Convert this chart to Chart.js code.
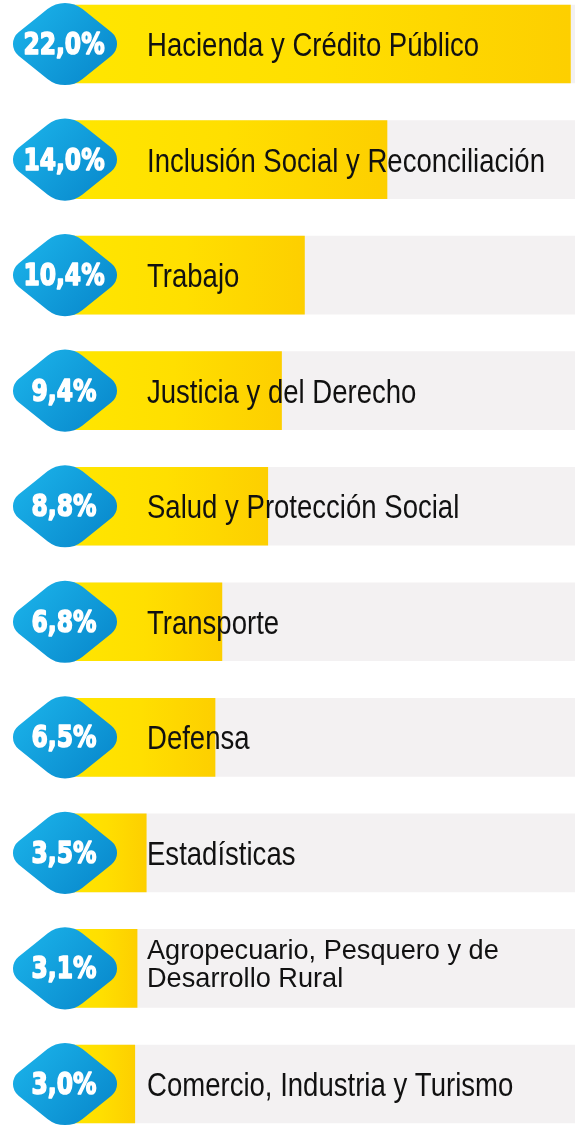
<!DOCTYPE html>
<html>
<head>
<meta charset="utf-8">
<script src="https://cdn.jsdelivr.net/npm/chart.js@4/dist/chart.umd.min.js"></script>
<style>
  html, body { margin: 0; padding: 0; background: #ffffff; }
  #wrap { position: relative; width: 575px; height: 1127px; }
</style>
</head>
<body>
<div id="wrap"><canvas id="c"></canvas></div>
<script>
// ---- data ----
const categories = [
  'Hacienda y Crédito Público',
  'Inclusión Social y Reconciliación',
  'Trabajo',
  'Justicia y del Derecho',
  'Salud y Protección Social',
  'Transporte',
  'Defensa',
  'Estadísticas',
  ['Agropecuario, Pesquero y de', 'Desarrollo Rural'],
  'Comercio, Industria y Turismo'
];
const shares = [22.0, 14.0, 10.4, 9.4, 8.8, 6.8, 6.5, 3.5, 3.1, 3.0];
const trackValues = [22.2, 22.2, 22.2, 22.2, 22.2, 22.2, 22.2, 22.2, 22.2, 22.2];
const axisMax = 22.2;

// ---- styling ----
const LABEL_FONT = '"Liberation Sans", Arial, sans-serif';
const BADGE_FONT = '"DejaVu Sans", sans-serif';

function fmtPct(v) { return v.toFixed(1).replace('.', ',') + '%'; }

function yellowGradient(ctx) {
  const chart = ctx.chart;
  if (!chart.chartArea || ctx.raw === undefined) return '#ffdf00';
  const xs = chart.scales.x;
  const x0 = xs.getPixelForValue(0);
  const x1 = xs.getPixelForValue(ctx.raw);
  const g = chart.ctx.createLinearGradient(x0, 0, x1, 0);
  g.addColorStop(0, '#ffe600');
  g.addColorStop(0.5, '#ffdf00');
  g.addColorStop(1, '#fdcf00');
  return g;
}

function badgePath(c, cx, cy) {
  const hw = 61, hh = 49, rSide = 15, rTop = 28;
  const L = [cx - hw, cy], T = [cx, cy - hh], R = [cx + hw, cy], B = [cx, cy + hh];
  c.beginPath();
  c.moveTo((L[0] + T[0]) / 2, (L[1] + T[1]) / 2);
  c.arcTo(T[0], T[1], R[0], R[1], rTop);
  c.arcTo(R[0], R[1], B[0], B[1], rSide);
  c.arcTo(B[0], B[1], L[0], L[1], rTop);
  c.arcTo(L[0], L[1], T[0], T[1], rSide);
  c.closePath();
}

const overlayPlugin = {
  id: 'overlay',
  afterDatasetsDraw(chart) {
    const c = chart.ctx;
    const xs = chart.scales.x, ys = chart.scales.y;
    const x0 = xs.getPixelForValue(0);
    categories.forEach((lab, i) => {
      const cy = ys.getPixelForValue(i);
      // label text
      c.save();
      c.fillStyle = '#111111';
      c.textBaseline = 'alphabetic';
      c.textAlign = 'left';
      const tx = x0 + 81;
      if (Array.isArray(lab)) {
        c.font = '28px ' + LABEL_FONT;
        lab.forEach((line, k) => {
          c.save();
          c.translate(tx, cy - 9 + k * 28);
          c.scale(0.97, 1);
          c.fillText(line, 0, 0);
          c.restore();
        });
      } else {
        c.font = '34px ' + LABEL_FONT;
        c.translate(tx, cy + 12);
        c.scale(0.81, 1);
        c.fillText(lab, 0, 0);
      }
      c.restore();

      // badge
      const bx = x0 - 1;
      c.save();
      badgePath(c, bx, cy);
      const g = c.createLinearGradient(bx - 45, cy - 40, bx + 45, cy + 40);
      g.addColorStop(0, '#1bb3ea');
      g.addColorStop(1, '#0887cb');
      c.fillStyle = g;
      c.fill();
      c.restore();

      c.save();
      c.fillStyle = '#ffffff';
      c.strokeStyle = '#ffffff';
      c.lineWidth = 1.6;
      c.lineJoin = 'round';
      c.font = 'bold 30px ' + BADGE_FONT;
      c.textAlign = 'center';
      c.textBaseline = 'alphabetic';
      c.translate(bx - 1, cy + 10);
      c.scale(0.78, 1);
      const t = fmtPct(shares[i]);
      c.fillText(t, 0, 0);
      c.strokeText(t, 0, 0);
      c.restore();
    });
  }
};

new Chart(document.getElementById('c'), {
  type: 'bar',
  data: {
    labels: categories,
    datasets: [
      {
        data: shares,
        backgroundColor: yellowGradient,
        borderWidth: 0,
        barThickness: 78,
        grouped: false,
        clip: false,
        order: 0
      },
      {
        data: trackValues,
        backgroundColor: '#f3f1f2',
        borderWidth: 0,
        barThickness: 78,
        grouped: false,
        clip: false,
        order: 1
      }
    ]
  },
  options: {
    indexAxis: 'y',
    responsive: true,
    maintainAspectRatio: false,
    animation: false,
    events: [],
    layout: { padding: { left: 66, right: 0, top: 44, bottom: 43 } },
    plugins: { legend: { display: false }, tooltip: { enabled: false } },
    scales: {
      x: { display: false, min: 0, max: axisMax },
      y: { display: false, offset: false }
    }
  },
  plugins: [overlayPlugin]
});
</script>
</body>
</html>
